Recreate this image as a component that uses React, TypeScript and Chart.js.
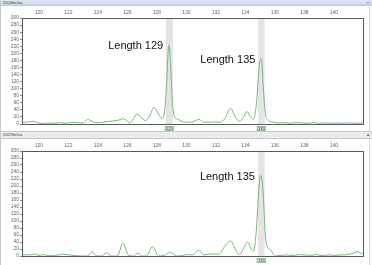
import React, { useEffect, useRef } from "react";
import Chart from "chart.js/auto";

// ---------- data ----------
const xTickValues = [120, 122, 124, 126, 128, 130, 132, 134, 136, 138, 140];
const yTickValues = [0, 20, 40, 60, 80, 100, 120, 140, 160, 180, 200, 220, 240, 260, 280, 300];
const xRange = [118.85, 141.97];
const yRange = [0, 300];

const topTitle = "5503fw.fsa";
const bottomTitle = "5507fw.fsa";

const topX = [
  118.85, 119.3, 119.6, 119.9, 120.3, 120.6, 121.0, 121.4, 121.8, 122.2, 122.6, 123.0, 123.3, 123.6, 123.9,
  124.3, 124.7, 125.1, 125.4, 125.7, 125.95, 126.15, 126.4, 126.65, 126.9, 127.2, 127.5, 127.8, 128.1, 128.35,
  128.5, 128.65, 128.76, 128.83, 128.92, 129.05, 129.2, 129.4, 129.7, 130.0, 130.4, 130.85, 131.1, 131.5, 131.9,
  132.3, 132.6, 133.0, 133.3, 133.6, 133.85, 134.1, 134.35, 134.55, 134.75, 134.92, 135.08, 135.2, 135.35, 135.5,
  135.8, 136.2, 136.6, 137.0, 137.4, 137.8, 138.2, 138.6, 139.0, 139.4, 139.8, 140.2, 140.6, 141.0, 141.5, 141.97,
];
const topY = [
  5, 6, 8, 4, 1, 3, 2, 4, 2, 5, 4, 3, 13, 7, 4,
  5, 7, 9, 11, 15, 10, 3, 14, 28, 20, 10, 22, 47, 28, 15,
  30, 110, 205, 224, 170, 60, 20, 14, 7, 5, 6, 13, 6, 5, 6,
  5, 15, 44, 20, 8, 18, 35, 20, 14, 60, 160, 185, 110, 30, 12,
  6, 3, 4, 2, 4, 3, 2, 4, 2, 3, 2, 3, 2, 3, 2, 3,
];

const bottomX = [
  118.85, 119.1, 119.4, 119.7, 120.0, 120.3, 120.6, 121.0, 121.3, 121.6, 121.9, 122.2, 122.5, 122.9, 123.3,
  123.6, 123.9, 124.2, 124.6, 124.9, 125.3, 125.7, 126.1, 126.4, 126.7, 127.0, 127.3, 127.7, 128.1, 128.5,
  128.9, 129.3, 129.7, 130.0, 130.4, 130.85, 131.2, 131.6, 132.0, 132.3, 132.55, 133.0, 133.3, 133.6, 133.85,
  134.15, 134.4, 134.55, 134.75, 134.92, 135.05, 135.2, 135.35, 135.5, 135.7, 136.0, 136.4, 136.8, 137.2, 137.6,
  138.0, 138.4, 138.8, 139.2, 139.6, 140.0, 140.5, 140.9, 141.3, 141.55, 141.97,
];
const bottomY = [
  2, 4, 3, 5, 2, 4, 1, 1, 3, 5, 4, 2, 1, 0, 0,
  12, 1, 0, 9, 0, 0, 36, 1, 0, 8, 0, 0, 27, 0, 2,
  11, 0, 1, 4, 3, 17, 3, 6, 5, 8, 25, 43, 20, 4, 20,
  40, 20, 14, 80, 200, 230, 180, 60, 25, 18, 0, 2, 3, 1, 4,
  3, 2, 4, 1, 3, 2, 3, 4, 8, 12, 6,
];

// highlighted size bins
const topBandFrom = [128.6, 134.85];
const topBandTo = [129.08, 135.3];
const topBandLabels = ["129", "135"];
const bottomBandFrom = [134.85];
const bottomBandTo = [135.3];
const bottomBandLabels = ["135"];

// peak callouts
const topCalloutX = [128.83, 135.08];
const topCalloutY = [224, 185];
const topCalloutText = ["Length 129", "Length 135"];
const bottomCalloutX = [135.05];
const bottomCalloutY = [230];
const bottomCalloutText = ["Length 135"];

// ---------- chart ----------
const decoPlugin = {
  id: "deco",
  beforeDatasetsDraw(chart: any, _args: any, opts: any) {
    const { ctx, chartArea: a, scales } = chart;
    const x = scales.x;
    ctx.save();
    ctx.fillStyle = "#e6e3e7";
    opts.bandFrom.forEach((f: number, i: number) => {
      const l = x.getPixelForValue(f);
      const r = x.getPixelForValue(opts.bandTo[i]);
      ctx.fillRect(l, a.top, r - l, a.bottom - a.top);
    });
    ctx.restore();
  },
  afterDatasetsDraw(chart: any, _args: any, opts: any) {
    const { ctx, chartArea: a, scales } = chart;
    const x = scales.x;
    const y = scales.y;
    ctx.save();
    // frame
    ctx.strokeStyle = "#5a5a5a";
    ctx.lineWidth = 1;
    ctx.strokeRect(Math.round(a.left) + 0.5, Math.round(a.top) + 0.5, Math.round(a.right - a.left), Math.round(a.bottom - a.top));
    // band labels
    opts.bandFrom.forEach((f: number, i: number) => {
      const l = x.getPixelForValue(f);
      const r = x.getPixelForValue(opts.bandTo[i]);
      const c = (l + r) / 2;
      const w = 9;
      ctx.fillStyle = "#d3e3d3";
      ctx.fillRect(c - w / 2, a.bottom + 2, w, 5);
      ctx.strokeStyle = "#9bb59b";
      ctx.strokeRect(c - w / 2 + 0.5, a.bottom + 2.5, w - 1, 4);
      ctx.fillStyle = "#4a4a4a";
      ctx.font = "4px 'Liberation Sans', Arial, sans-serif";
      ctx.textAlign = "center";
      ctx.textBaseline = "middle";
      ctx.fillText(opts.bandLabels[i], c, a.bottom + 4.6);
    });
    // callouts
    ctx.fillStyle = "#111";
    ctx.font = "11px 'Liberation Sans', Arial, sans-serif";
    ctx.textAlign = "right";
    ctx.textBaseline = "middle";
    opts.calloutX.forEach((cx: number, i: number) => {
      const px = x.getPixelForValue(cx);
      const py = y.getPixelForValue(opts.calloutY[i]);
      ctx.fillText(opts.calloutText[i], px - 6, py + 1);
    });
    ctx.restore();
  },
};

function Trace(props: any) {
  const ref = useRef<HTMLCanvasElement>(null);
  useEffect(() => {
    const pts = props.xs.map((v: number, i: number) => ({ x: v, y: props.ys[i] }));
    const tickFont = { size: 5, family: "'Liberation Sans', Arial, sans-serif" };
    const chart = new Chart(ref.current as HTMLCanvasElement, {
      type: "line",
      data: {
        datasets: [
          {
            data: pts,
            borderColor: "#78b878",
            borderWidth: 1,
            pointRadius: 0,
            tension: 0.35,
            cubicInterpolationMode: "monotone",
            fill: false,
          },
        ],
      },
      options: {
        animation: false,
        responsive: false,
        devicePixelRatio: 1,
        layout: { padding: { left: 0, right: 9, top: 0, bottom: props.padBottom } },
        plugins: {
          legend: { display: false },
          tooltip: { enabled: false },
          deco: props.deco,
        } as any,
        scales: {
          x: {
            type: "linear",
            position: "top",
            min: xRange[0],
            max: xRange[1],
            afterFit: (s: any) => { s.height = 13; },
            afterBuildTicks: (s: any) => { s.ticks = xTickValues.map((v) => ({ value: v })); },
            grid: { display: false, drawTicks: false },
            border: { display: false },
            ticks: { font: tickFont, color: "#666", padding: 2, maxRotation: 0, autoSkip: false },
          },
          y: {
            type: "linear",
            min: yRange[0],
            max: yRange[1],
            afterFit: (s: any) => { s.width = 22; },
            afterBuildTicks: (s: any) => { s.ticks = yTickValues.map((v) => ({ value: v })); },
            grid: { drawOnChartArea: false, drawTicks: true, tickLength: 2, color: "#888" },
            border: { display: false },
            ticks: { font: tickFont, color: "#666", padding: 1, autoSkip: false },
          },
        },
      } as any,
      plugins: [decoPlugin],
    });
    return () => chart.destroy();
  }, []);
  return (
    <canvas
      ref={ref}
      width={372}
      height={props.height}
      style={{ position: "absolute", left: 0, top: props.top, width: 372, height: props.height }}
    />
  );
}

function TitleBar(props: any) {
  return (
    <div
      style={{
        position: "absolute",
        left: 0,
        top: props.top,
        width: 372,
        height: props.height,
        background: props.bg,
        borderBottom: "1px solid #c4c8cc",
        boxSizing: "border-box",
        fontFamily: "'Liberation Sans', Arial, sans-serif",
        fontSize: 4,
        lineHeight: props.height - 1 + "px",
        color: "#333",
        paddingLeft: 3,
      }}
    >
      {props.title}
      <span style={{ position: "absolute", right: 3, top: 0, fontSize: 4 }}>{props.mark}</span>
    </div>
  );
}

export default function App() {
  return (
    <div
      style={{
        position: "absolute",
        left: 0,
        top: 0,
        width: 372,
        height: 265,
        background: "#fff",
        overflow: "hidden",
      }}
    >
      <TitleBar top={0} height={6} bg="linear-gradient(#dde8f5,#c9d9ec)" title={topTitle} mark="×" />
      <Trace
        top={5}
        height={126}
        padBottom={7}
        xs={topX}
        ys={topY}
        deco={{
          bandFrom: topBandFrom,
          bandTo: topBandTo,
          bandLabels: topBandLabels,
          calloutX: topCalloutX,
          calloutY: topCalloutY,
          calloutText: topCalloutText,
        }}
      />
      <div style={{ position: "absolute", left: 0, top: 131, width: 372, height: 1, background: "#c8c8c8" }} />
      <TitleBar top={132} height={7} bg="#ececec" title={bottomTitle} mark="▴" />
      <Trace
        top={138}
        height={127}
        padBottom={9}
        xs={bottomX}
        ys={bottomY}
        deco={{
          bandFrom: bottomBandFrom,
          bandTo: bottomBandTo,
          bandLabels: bottomBandLabels,
          calloutX: bottomCalloutX,
          calloutY: bottomCalloutY,
          calloutText: bottomCalloutText,
        }}
      />
      <div style={{ position: "absolute", left: 0, top: 0, width: 1, height: 265, background: "#c8c8c8" }} />
      <div style={{ position: "absolute", left: 369, top: 0, width: 1, height: 265, background: "#d4d4d4" }} />
    </div>
  );
}
